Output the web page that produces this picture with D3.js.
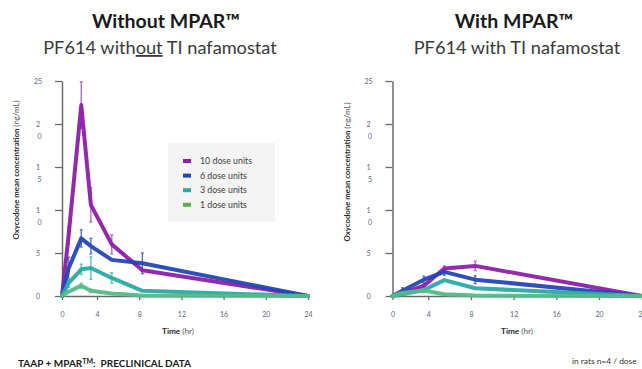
<!DOCTYPE html>
<html>
<head>
<meta charset="utf-8">
<script src="https://cdn.jsdelivr.net/npm/d3@7"></script>
<style>
  html, body { margin: 0; padding: 0; background: #fff; }
  svg { display: block; }
</style>
</head>
<body>
<div id="container"></div>
<script>
const doseLabels = ['10 dose units', '6 dose units', '3 dose units', '1 dose units'];
const lineColors = ['#8d1fa9', '#2446b5', '#2aaaa4', '#52ba86'];
const errColors = ['#b46ac6', '#5a72c8', '#5cc2bd', '#86cfa6'];
const legendColors = ['#8d1fa9', '#2446b5', '#2aaaa4', '#5cae45'];

const xTicks = [0, 4, 8, 12, 16, 20, 24];
const yTicks = [0, 5, 10, 15, 20, 25];
const yTickLabels = ['0', '5', '1\n0', '1\n5', '2\n0', '25'];

// without MPAR (left)
const timesWithout = [0, 0.75, 2.2, 3.3, 5.4, 8.3, 24];
const without10 = [0, 7.0, 22.2, 10.6, 6.0, 3.0, 0];
const without6 = [0, 3.2, 6.7, 5.8, 4.2, 3.8, 0];
const without3 = [0, 1.5, 3.1, 3.25, 2.1, 0.6, 0];
const without1 = [0, 0.5, 1.2, 0.6, 0.3, 0.05, 0];
const without10Err = [0, 1.0, 2.7, 2.0, 1.1, 0, 0];
const without6Err = [0, 1.3, 1.0, 0.9, 0, 1.2, 0];
const without3Err = [0, 0.5, 0.6, 1.3, 0.6, 0, 0];
const without1Err = [0, 0, 0.3, 0.2, 0, 0, 0];

// with MPAR (right)
const timesWith = [0, 1.1, 3.5, 5.5, 8.4, 24];
const with10 = [0, 0.3, 1.2, 3.2, 3.5, 0];
const with6 = [0, 0.6, 1.9, 2.8, 1.9, 0];
const with3 = [0, 0.2, 0.7, 1.85, 0.9, 0];
const with1 = [0, 0.35, 0.65, 0.2, 0.05, 0];
const with10Err = [0, 0, 0, 0.3, 0.55, 0];
const with6Err = [0, 0.35, 0.4, 0.4, 0.45, 0];
const with3Err = [0, 0, 0.2, 0, 0, 0];
const with1Err = [0, 0, 0.25, 0, 0, 0];

const W = 642, H = 369;
const font = 'Lato, "Open Sans", sans-serif';

const svg = d3.select('#container').append('svg')
  .attr('width', W)
  .attr('height', H)
  .attr('viewBox', `0 0 ${W} ${H}`)
  .style('font-family', font);

function drawPanel(p) {
  const x = d3.scaleLinear().domain([0, 4, 24]).range(p.xRange);
  const y = d3.scaleLinear().domain([0, 25]).range([296, 81]);
  const g = svg.append('g');

  // titles
  g.append('text')
    .attr('x', p.titleX).attr('y', 28)
    .attr('text-anchor', 'middle')
    .style('font-size', '19.5px').style('font-weight', 700).style('fill', '#1a1a1a')
    .text(p.title);
  const sub = g.append('text')
    .attr('x', p.titleX + p.subDx).attr('y', 54)
    .attr('text-anchor', 'middle')
    .style('font-size', '18.2px').style('fill', '#3a3a3a');
  p.subtitle.forEach(s => {
    sub.append('tspan').text(s.t).style('text-decoration', s.u ? 'underline' : null);
  });

  // axes
  const xAxis = g.append('g')
    .attr('transform', `translate(0,${y(0)})`)
    .call(d3.axisBottom(x).tickValues(xTicks).tickSize(4).tickSizeOuter(0));
  xAxis.select('.domain').attr('stroke', '#6a6a6a').attr('stroke-width', 1.5);
  xAxis.selectAll('.tick line').attr('stroke', '#6a6a6a').attr('stroke-width', 1.3);
  xAxis.selectAll('.tick text')
    .attr('y', 16.5)
    .style('font-size', '7px').style('fill', '#5a6580').style('font-family', font);

  const yAxis = g.append('g')
    .attr('transform', `translate(${p.xRange[0]},0)`)
    .call(d3.axisLeft(y).tickValues(yTicks).tickSize(7).tickSizeOuter(0).tickFormat(''));
  yAxis.select('.domain').attr('stroke', '#6a6a6a').attr('stroke-width', 1.5);
  yAxis.selectAll('.tick line').attr('stroke', '#6a6a6a').attr('stroke-width', 1.3);

  yTicks.forEach((v, i) => {
    const t = g.append('text')
      .attr('x', p.xRange[0] - 24).attr('y', y(v) + 2.5)
      .attr('text-anchor', 'middle')
      .style('font-size', '7px').style('fill', '#5a6580');
    yTickLabels[i].split('\n').forEach((s, j) => {
      t.append('tspan').attr('x', p.xRange[0] - 24 + j * 1.5).attr('dy', j ? 12.5 : 0).text(s);
    });
  });

  // axis titles
  const yt = g.append('text')
    .attr('transform', `translate(${p.xRange[0] - 43},${p.yTitleY}) rotate(-90)`)
    .attr('text-anchor', 'middle')
    .style('font-size', '7.8px').style('fill', '#2a2a2a');
  yt.append('tspan').style('font-weight', 700).text('Oxycodone mean concentration ');
  yt.append('tspan').style('fill', '#555').text('(ng/mL)');

  const xt = g.append('text')
    .attr('x', p.timeX).attr('y', 334)
    .attr('text-anchor', 'middle')
    .style('font-size', '8.2px').style('fill', '#2a2a2a');
  xt.append('tspan').style('font-weight', 700).text('Time ');
  xt.append('tspan').style('fill', '#555').text('(hr)');

  const line = d3.line().x((d, i) => x(p.times[i])).y(d => y(d));

  // error bars under the lines
  p.series.forEach((s, k) => {
    const eg = g.append('g').attr('stroke', errColors[k]).attr('stroke-width', 1.4).attr('fill', 'none');
    s.forEach((v, i) => {
      const e = p.errors[k][i];
      if (!e) return;
      const cx = x(p.times[i]);
      eg.append('line').attr('x1', cx).attr('x2', cx).attr('y1', y(v - e)).attr('y2', y(v + e));
      eg.append('line').attr('x1', cx - 1.5).attr('x2', cx + 1.5).attr('y1', y(v - e)).attr('y2', y(v - e));
      eg.append('line').attr('x1', cx - 1.5).attr('x2', cx + 1.5).attr('y1', y(v + e)).attr('y2', y(v + e));
    });
  });

  p.series.forEach((s, k) => {
    g.append('path')
      .datum(s)
      .attr('d', line)
      .attr('fill', 'none')
      .attr('stroke', lineColors[k])
      .attr('stroke-width', 4)
      .attr('stroke-linejoin', 'round')
      .attr('stroke-linecap', 'round')
      .attr('opacity', 0.95);
  });

  if (p.legend) {
    const lg = g.append('g');
    lg.append('rect')
      .attr('x', 168).attr('y', 143).attr('width', 107).attr('height', 79)
      .attr('fill', '#f4f4f4');
    doseLabels.forEach((d, i) => {
      const ly = 161 + i * 14.6;
      lg.append('rect')
        .attr('x', 183).attr('y', ly - 2).attr('width', 8).attr('height', 4)
        .attr('fill', legendColors[i]);
      lg.append('text')
        .attr('x', 200).attr('y', ly + 3)
        .style('font-size', '8.8px').style('fill', '#404040')
        .text(d);
    });
  }
}

drawPanel({
  xRange: [62, 97, 308],
  titleX: 166,
  subDx: -6,
  title: 'Without MPAR™',
  subtitle: [{ t: 'PF614 with' }, { t: 'out', u: true }, { t: ' TI nafamostat' }],
  times: timesWithout,
  series: [without10, without6, without3, without1],
  errors: [without10Err, without6Err, without3Err, without1Err],
  yTitleY: 170,
  timeX: 178,
  legend: true
});

drawPanel({
  xRange: [392.5, 428.3, 641.7],
  titleX: 514,
  subDx: 3,
  title: 'With MPAR™',
  subtitle: [{ t: 'PF614 with TI nafamostat' }],
  times: timesWith,
  series: [with10, with6, with3, with1],
  errors: [with10Err, with6Err, with3Err, with1Err],
  yTitleY: 172,
  timeX: 517,
  legend: false
});

// footer
const foot = svg.append('text')
  .attr('x', 18).attr('y', 367)
  .style('white-space', 'pre')
  .style('font-size', '10px').style('font-weight', 700).style('fill', '#1a1a1a');
foot.append('tspan').text('TAAP + MPAR');
foot.append('tspan').attr('dy', -3.5).style('font-size', '7px').text('TM');
foot.append('tspan').attr('dy', 3.5).text(':  PRECLINICAL DATA');

svg.append('text')
  .attr('x', 572).attr('y', 364)
  .style('font-size', '8.4px').style('fill', '#333')
  .text('in rats n=4 / dose');
</script>
</body>
</html>
